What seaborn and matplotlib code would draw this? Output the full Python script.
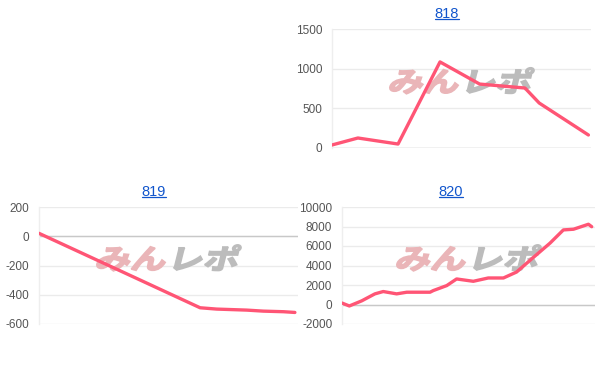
import matplotlib
matplotlib.use("Agg")
import matplotlib.pyplot as plt
import seaborn as sns
import pandas as pd
from matplotlib.textpath import TextPath
from matplotlib.patches import PathPatch
from matplotlib.font_manager import FontProperties
from matplotlib.transforms import Affine2D
from matplotlib.lines import Line2D

# ---- data ----
titles = ["818", "819", "820"]

x_818 = [0, 10, 25.5, 41.7, 57, 74.5, 80, 99]
y_818 = [38, 126, 50, 1085, 806, 756, 567, 164]

x_819 = [0, 27.4, 62.2, 68.6, 80.2, 86.6, 94.4, 98.8]
y_819 = [20, -204, -489, -498, -505, -512, -516, -521]

x_820 = [0, 2.9, 7.8, 13.0, 16.3, 21.6, 25.6, 34.8, 36.1, 41.4, 45.3, 51.9,
         57.8, 63.8, 69.0, 75.6, 82.2, 87.5, 91.5, 97.4, 98.7]
y_820 = [150, -150, 375, 1090, 1330, 1090, 1260, 1260, 1430, 1940, 2620, 2380,
         2720, 2720, 3330, 4820, 6290, 7650, 7720, 8230, 7980]

yticks_818 = [0, 500, 1000, 1500]
yticks_819 = [-600, -400, -200, 0, 200]
yticks_820 = [-2000, 0, 2000, 4000, 6000, 8000, 10000]

sns.set_style("white")
plt.rcParams["font.family"] = ["Liberation Sans", "DejaVu Sans"]

LINE = "#ff5575"
GRID = "#ebebeb"
BASE = "#c8c8c8"
TICK = "#555555"
TITLE = "#1155cc"

fig = plt.figure(figsize=(6.04, 3.68), dpi=100)
W, H = 604, 368

def axes_px(left, right, top, bottom):
    return fig.add_axes([left / W, 1 - bottom / H, (right - left) / W, (bottom - top) / H])

ax818 = axes_px(332, 591, 29, 148)
ax819 = axes_px(39, 298, 207, 324)
ax820 = axes_px(342, 595, 207, 324)

specs = [
    (ax818, titles[0], x_818, y_818, yticks_818, 0.444),
    (ax819, titles[1], x_819, y_819, yticks_819, 0.444),
    (ax820, titles[2], x_820, y_820, yticks_820, 0.431),
]

fp_wm = FontProperties(family="Noto Sans CJK JP", weight="bold")

def add_watermark(ax):
    p1 = TextPath((0, 0), "みん", size=100, prop=fp_wm)
    p2 = TextPath((205, 0), "レポ", size=100, prop=fp_wm)
    e1 = p1.get_extents()
    e2 = p2.get_extents()
    x0 = min(e1.x0, e2.x0); x1 = max(e1.x1, e2.x1)
    y0 = min(e1.y0, e2.y0); y1 = max(e1.y1, e2.y1)
    tw, th = 140.0, 26.0
    cx, cy = ax.transAxes.transform((0.50, 0.565))
    tr = (Affine2D().translate(-(x0 + x1) / 2, -(y0 + y1) / 2)
          .scale(tw / (x1 - x0), th / (y1 - y0))
          .skew_deg(14, 0)
          .translate(cx, cy))
    for p, c in ((p1, "#eab5b8"), (p2, "#bcbcbc")):
        patch = PathPatch(p, facecolor=c, edgecolor=c, linewidth=1.2, zorder=1)
        patch.set_transform(tr)
        ax.add_artist(patch)

for ax, title, xs, ys, yt, tx in specs:
    df = pd.DataFrame({"x": xs, "y": ys})
    add_watermark(ax)
    sns.lineplot(data=df, x="x", y="y", ax=ax, color=LINE, linewidth=2.4, zorder=3)
    ax.set_xlim(0, 100)
    ax.set_ylim(yt[0], yt[-1])
    ax.set_yticks(yt)
    ax.set_yticklabels([str(v) for v in yt])
    ax.set_xticks([])
    ax.set_xlabel("")
    ax.set_ylabel("")
    ax.tick_params(axis="y", length=0, pad=7, labelsize=8.5, labelcolor=TICK)
    ax.yaxis.grid(True, color=GRID, linewidth=1, zorder=0)
    ax.set_axisbelow(True)
    for s in ["top", "right", "bottom"]:
        ax.spines[s].set_visible(False)
    ax.spines["left"].set_color("#eeeeee")
    ax.spines["left"].set_linewidth(1)
    ax.axhline(0, color=BASE, linewidth=1, zorder=2)
    ax.set_title(title, color=TITLE, fontsize=10.5, pad=8, x=tx)
    ax.patch.set_alpha(0)

# underline the titles (link style)
fig.canvas.draw()
renderer = fig.canvas.get_renderer()
for ax, *_ in specs:
    bb = ax.title.get_window_extent(renderer)
    yline = bb.y0 + 2
    fig.add_artist(Line2D([bb.x0 / W, bb.x1 / W], [yline / H, yline / H],
                          transform=fig.transFigure, color=TITLE, linewidth=0.9))

fig.savefig("out.png", dpi=100)
